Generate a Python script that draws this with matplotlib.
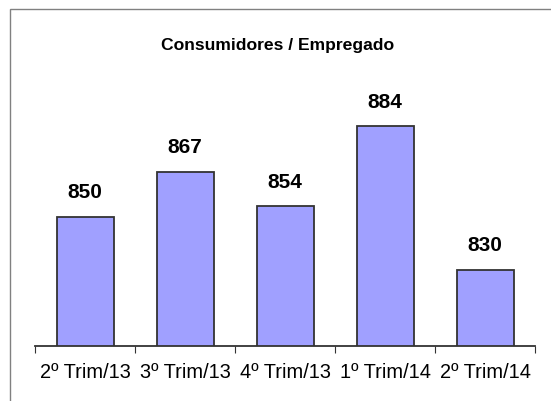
import matplotlib
matplotlib.use("Agg")
import matplotlib.pyplot as plt
from matplotlib.patches import Rectangle

categories = ["2º Trim/13", "3º Trim/13", "4º Trim/13", "1º Trim/14", "2º Trim/14"]
values = [850, 867, 854, 884, 830]
title = "Consumidores / Empregado"

plt.rcParams['font.family'] = ['Liberation Sans', 'DejaVu Sans']

W, H = 551, 402
fig = plt.figure(figsize=(W/100, H/100), dpi=100)
fig.patch.set_facecolor("white")

# outer border
fig.patches.append(Rectangle((10/W, -0.1), 1.2, (H-10)/H + 0.1, transform=fig.transFigure,
                             fill=False, edgecolor="#808080", linewidth=1.0))

ax = fig.add_axes([35/W, (H-347.3)/H, 500/W, 266/H])
x = list(range(len(categories)))
ax.bar(x, values, width=0.57, color="#A0A0FF", edgecolor="#333333", linewidth=1.3, zorder=2)
ax.set_ylim(801.3, 901.3)
ax.set_xlim(-0.5, len(categories)-0.5)

for xi, v in zip(x, values):
    ax.annotate(f"{v}", (xi, v), xytext=(0, 15.5), textcoords="offset pixels",
                ha="center", va="bottom", fontsize=15, fontweight="bold")

for s in ["top", "right", "left"]:
    ax.spines[s].set_visible(False)
ax.spines["bottom"].set_color("#333333")
ax.spines["bottom"].set_linewidth(1.3)
ax.set_yticks([])
ax.set_xticks([i - 0.5 for i in range(len(categories)+1)])
ax.set_xticklabels([])
ax.set_xticks(x, minor=True)
ax.set_xticklabels(categories, minor=True, fontsize=14.4)
ax.tick_params(axis="x", which="major", length=5, color="#333333", direction="out")
ax.tick_params(axis="x", which="minor", length=0, pad=11.5)

fig.text(278/W, 1 - 45.5/H, title, ha="center", va="center", fontsize=12.6, fontweight="bold")

fig.savefig("out.png", dpi=100)
